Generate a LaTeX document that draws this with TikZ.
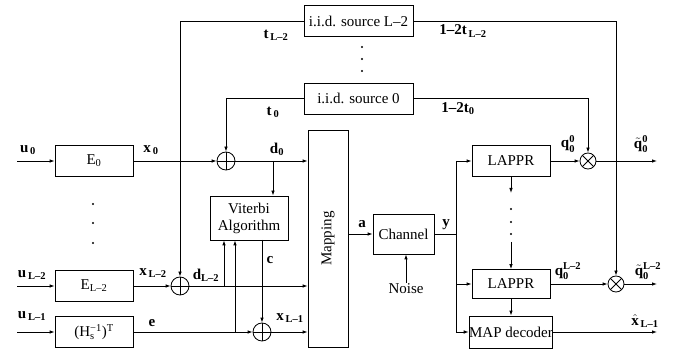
\documentclass[tikz,border=0pt]{standalone}
\usepackage{amsmath}
\usepackage{fontspec}
\setmainfont{Liberation Serif}
\usetikzlibrary{arrows.meta}
\begin{document}
\begin{tikzpicture}[x=1pt,y=-1pt,line width=0.8pt,
  font=\fontsize{15}{17}\selectfont,
  box/.style={draw,inner sep=0pt,align=center},
  arr/.style={-{Latex[length=5pt,width=3.5pt]}},
  lbl/.style={inner sep=0pt,font=\fontsize{15}{17}\selectfont\bfseries},
  xorop/.style={draw,circle,minimum size=18pt,inner sep=0pt,
    path picture={\draw (path picture bounding box.north)--(path picture bounding box.south)
      (path picture bounding box.west)--(path picture bounding box.east);}},
  mulop/.style={draw,circle,minimum size=16pt,inner sep=0pt,
    path picture={\draw (path picture bounding box.north west)--(path picture bounding box.south east)
      (path picture bounding box.south west)--(path picture bounding box.north east);}},
  dotm/.style={fill,circle,inner sep=0pt,minimum size=2.4pt}]
\useasboundingbox (0,0) rectangle (681,350);

% boxes
\node[box,minimum width=109pt,minimum height=31pt] (srcL) at (358.5,21) {i.i.d. source L–2};
\node[box,minimum width=109pt,minimum height=31pt] (src0) at (358.5,98.5) {i.i.d. source 0};
\node[box,minimum width=40pt,minimum height=217pt] (map) at (328,238.5) {};
\node[rotate=90] at (map.center) {Mapping};
\node[box,minimum width=78pt,minimum height=31pt] (E0) at (94,161) {E$_\text{0}$};
\node[box,minimum width=78pt,minimum height=31pt] (EL) at (94,286) {E$_\text{L–2}$};
\node[box,minimum width=78pt,minimum height=31pt] (H) at (94,332) {(H$_\text{s}^\text{−1}$)$^\text{T}$};
\node[box,minimum width=78pt,minimum height=44pt] (vit) at (249,218) {Viterbi\\Algorithm};
\node[box,minimum width=61pt,minimum height=40pt] (chan) at (403.5,234) {Channel};
\node[inner sep=1pt] (noise) at (406,289) {Noise};
\node[box,minimum width=78pt,minimum height=31pt] (lap0) at (511,161) {LAPPR};
\node[box,minimum width=78pt,minimum height=29pt] (lapL) at (511,284) {LAPPR};
\node[box,minimum width=78pt,minimum height=32pt] (mapd) at (511,332) {MAP decoder};

% operators
\node[xorop] (xor0) at (226,161) {};
\node[xorop] (xorL) at (180,286) {};
\node[xorop] (xorc) at (262,332) {};
\node[mulop] (mul0) at (588,161) {};
\node[mulop] (mulL) at (616,284) {};

% coordinates
\coordinate (u0) at (17,161);
\coordinate (uL) at (17,286);
\coordinate (uL1) at (17,332);
\coordinate (tLc) at (180,21);
\coordinate (t0c) at (226,98.5);
\coordinate (d0b) at (273,161);
\coordinate (dLb) at (224,286);
\coordinate (eb) at (235,332);
\coordinate (cb) at (262,240);
\coordinate (yc) at (456,234);
\coordinate (y0) at (456,161);
\coordinate (yL) at (456,284);
\coordinate (yM) at (456,332);
\coordinate (s0c) at (588,98.5);
\coordinate (sLc) at (616,21);
\coordinate (o0) at (657,161);
\coordinate (oL) at (657,284);
\coordinate (oM) at (657,332);
\coordinate (ld1) at (511,193);
\coordinate (ld2) at (511,242);

% left inputs
\draw[arr] (u0) -- (E0);
\draw[arr] (uL) -- (EL);
\draw[arr] (uL1) -- (H);
\draw[arr] (E0) -- (xor0);
\draw[arr] (EL) -- (xorL);
\draw[arr] (H) -- (xorc);
\draw[arr] (xor0) -- (xor0 -| map.west);
\draw[arr] (xorL) -- (xorL -| map.west);
\draw[arr] (xorc) -- (xorc -| map.west);
\draw[arr] (srcL.west) -- (tLc) -- (xorL);
\draw[arr] (src0.west) -- (t0c) -- (xor0);
\draw[arr] (d0b) -- (d0b |- vit.north);
\draw[arr] (dLb) -- (dLb |- vit.south);
\draw[arr] (eb) -- (eb |- vit.south);
\draw[arr] (cb) -- (xorc);

% channel and receiver
\draw[arr] (chan.west -| map.east) -- (chan.west);
\draw[arr] (noise) -- (chan.south -| noise) ;
\draw (chan.east) -- (yc);
\draw (y0) -- (yM);
\draw[arr] (y0) -- (lap0.west);
\draw[arr] (yL) -- (lapL.west);
\draw[arr] (yM) -- (mapd.west);
\draw[arr] (lap0.south) -- (ld1);
\draw[arr] (ld2) -- (lapL.north);
\draw[arr] (lapL) -- (mapd);
\draw[arr] (lap0) -- (mul0);
\draw[arr] (lapL) -- (mulL);
\draw[arr] (src0.east) -- (s0c) -- (mul0);
\draw[arr] (srcL.east) -- (sLc) -- (mulL);
\draw[arr] (mul0) -- (o0);
\draw[arr] (mulL) -- (oL);
\draw[arr] (mapd) -- (oM);

% dots
\foreach \yy in {204,223,243} \node[dotm] at (93,\yy) {};
\foreach \yy in {47,59,71} \node[dotm] at (362,\yy) {};
\foreach \yy in {209,222,234} \node[dotm] at (511,\yy) {};

% labels
\node[lbl] at (28,150) {$\textbf{u}_{\,\textbf{0}}$};
\node[lbl] at (151,150) {$\textbf{x}_{\,\textbf{0}}$};
\node[lbl] at (276,35) {$\textbf{t}_{\,\textbf{L–2}}$};
\node[lbl] at (273,112) {$\textbf{t}_{\,\textbf{0}}$};
\node[lbl] at (277,149) {$\textbf{d}_{\textbf{0}}$};
\node[lbl] at (32,275) {$\textbf{u}_{\,\textbf{L–2}}$};
\node[lbl] at (153,273) {$\textbf{x}_{\,\textbf{L–2}}$};
\node[lbl] at (206,275) {$\textbf{d}_{\textbf{L–2}}$};
\node[lbl] at (32,316) {$\textbf{u}_{\,\textbf{L–1}}$};
\node[lbl] at (152,323) {e};
\node[lbl] at (270,260) {c};
\node[lbl] at (290,318) {$\textbf{x}_{\,\textbf{L–1}}$};
\node[lbl] at (463,31) {$\textbf{1–2t}_{\,\textbf{L–2}}$};
\node[lbl] at (458,109) {$\textbf{1–2t}_{\textbf{0}}$};
\node[lbl] at (568,144) {$\textbf{q}^{\textbf{0}}_{\textbf{0}}$};
\node[lbl] at (641,144) {$\tilde{\textbf{q}}^{\textbf{0}}_{\textbf{0}}$};
\node[lbl] at (362,224) {a};
\node[lbl] at (446,225) {y};
\node[lbl] at (568,271) {$\textbf{q}^{\textbf{L–2}}_{\textbf{0}}$};
\node[lbl] at (648,271) {$\tilde{\textbf{q}}^{\textbf{L–2}}_{\textbf{0}}$};
\node[lbl] at (645,321) {$\hat{\textbf{x}}_{\,\textbf{L–1}}$};
\end{tikzpicture}
\end{document}
